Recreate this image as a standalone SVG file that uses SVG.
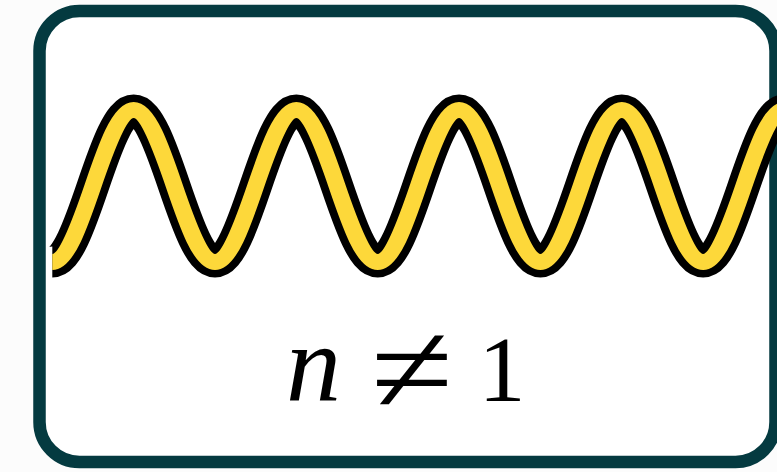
<svg xmlns="http://www.w3.org/2000/svg" width="777" height="472" viewBox="0 0 777 472">
  <style>
    .frame { fill: #ffffff; stroke: #043a40; stroke-width: 12.5; }
    .wave-outline { fill: none; stroke: #000000; stroke-width: 31; stroke-linecap: butt; stroke-linejoin: round; }
    .wave-fill { fill: none; stroke: #fdd83a; stroke-width: 16; stroke-linecap: butt; stroke-linejoin: round; }
    .math { font-family: "Liberation Serif", "DejaVu Serif", serif; fill: #000000; }
  </style>
  <defs>
    <path id="wavePath" d="M49.81,262 c13.62,0 26.12,-37.1 38.74,-76 s25.12,-76 38.74,-76 s26.12,37.1 38.74,76 s25.12,76 38.74,76 s26.12,-37.1 38.74,-76 s25.12,-76 38.74,-76 s26.12,37.1 38.74,76 s25.12,76 38.74,76 s26.12,-37.1 38.74,-76 s25.12,-76 38.74,-76 s26.12,37.1 38.74,76 s25.12,76 38.74,76 s26.12,-37.1 38.74,-76 s25.12,-76 38.74,-76 s26.12,37.1 38.74,76 s25.12,76 38.74,76 s26.12,-37.1 38.74,-76 s25.12,-76 38.74,-76 s26.12,37.1 38.74,76 s25.12,76 38.74,76"/>
  </defs>
  <rect x="0" y="0" width="777" height="472" fill="#fcfcfc"/>
  <g id="box">
    <rect class="frame" x="39.5" y="11" width="736" height="451" rx="40" ry="40"/>
  </g>
  <g id="wave" transform="scale(1.05,1)">
    <use href="#wavePath" class="wave-outline"/>
    <use href="#wavePath" class="wave-fill"/>
  </g>
  <g id="label">
    <text class="math" x="286" y="401" font-size="110" font-style="italic">n</text>
    <text class="math" transform="translate(412,413) scale(1.5,1.3)" x="0" y="0" font-size="100" text-anchor="middle">≠</text>
    <text class="math" x="502" y="401" font-size="94" text-anchor="middle">1</text>
  </g>
</svg>
